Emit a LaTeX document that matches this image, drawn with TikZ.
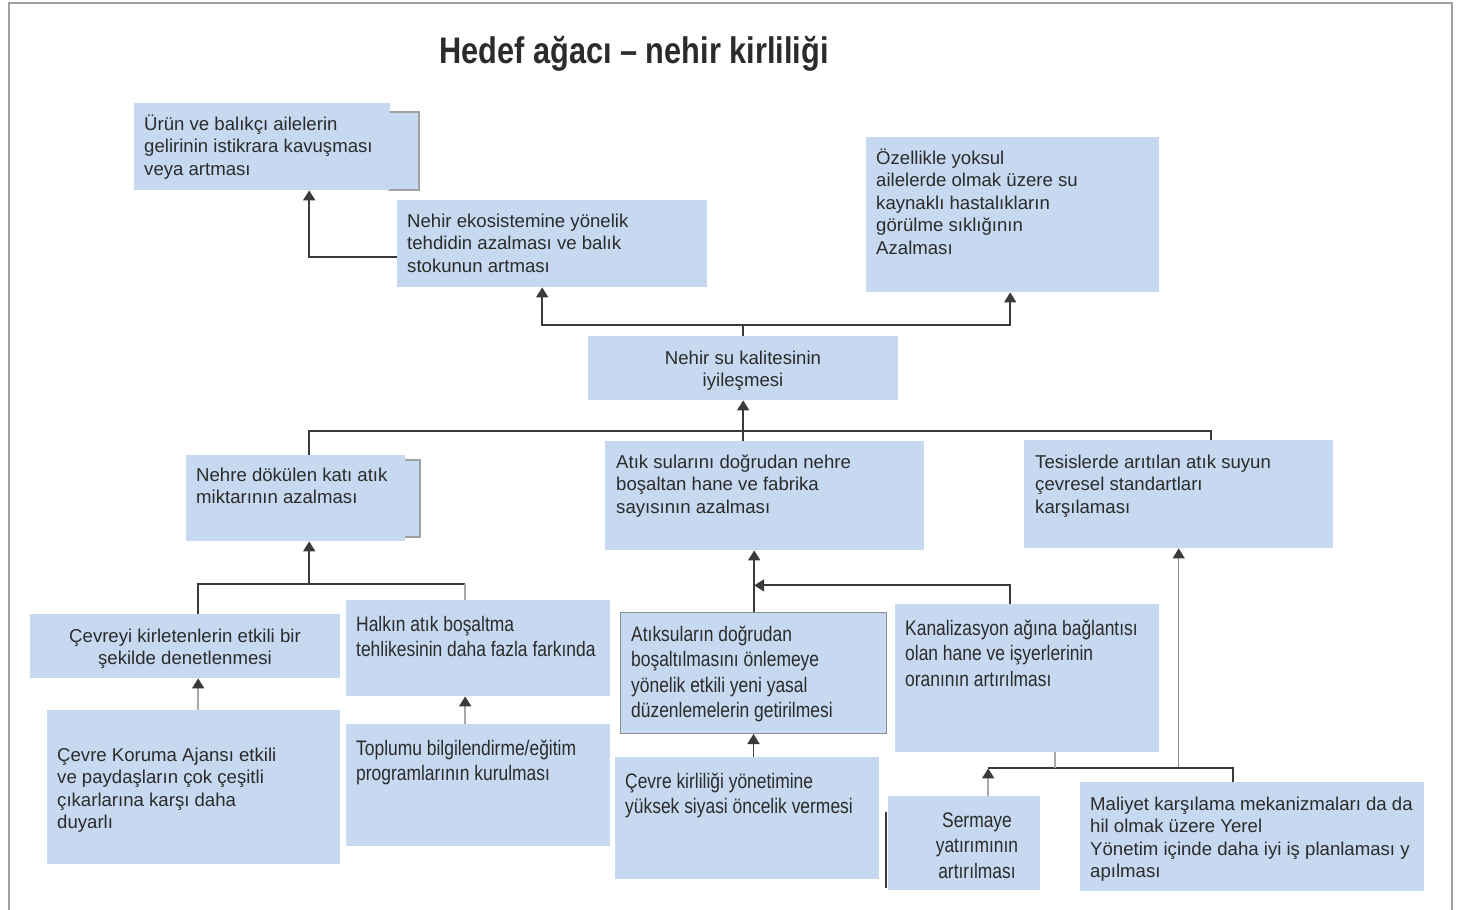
\documentclass[tikz,border=0pt]{standalone}
\usepackage{fontspec}
\setmainfont{Liberation Sans}
\newfontfamily\narrowfont[FakeStretch=0.83]{Liberation Sans}
\usetikzlibrary{arrows.meta}

\definecolor{boxblue}{HTML}{C6D9F0}
\definecolor{ink}{HTML}{2B2B2B}
\definecolor{wire}{HTML}{3A3A3A}
\definecolor{wirelight}{HTML}{A8A8A8}
\definecolor{wiremid}{HTML}{8C8C8C}
\definecolor{framegray}{HTML}{A0A0A0}

% stacked lines whose reference point is the first baseline
\newcommand{\txtlines}[2]{\begin{tabular}[t]{@{}#1@{}}#2\end{tabular}}

\tikzset{
  goal/.style={fill=boxblue, draw=none, anchor=north west, inner sep=0pt},
  framefill/.style={fill=boxblue},
  frameedge/.style={draw=framegray, line width=1.6pt},
  regtext/.style={anchor=base west, inner sep=0pt, text=ink,
    font=\fontsize{18.6}{22.5}\selectfont},
  regcenter/.style={regtext, anchor=base},
  nartext/.style={anchor=base west, inner sep=0pt, text=ink,
    font=\narrowfont\fontsize{21}{25.5}\selectfont},
  narcenter/.style={nartext, anchor=base},
  wireline/.style={draw=wire, line width=1.9pt},
  lightline/.style={draw=wirelight, line width=1.9pt},
  tip/.style={-{Triangle[width=12pt,length=10pt,color=wire]}},
  arr/.style={wireline, tip},
  larr/.style={lightline, tip},
  garr/.style={draw=wiremid, line width=1.3pt, tip},
}

\begin{document}
\begin{tikzpicture}[x=1pt,y=-1pt]
\fill[white] (0,0) rectangle (1457,910);
\useasboundingbox (0,0) rectangle (1457,910);

% outer frame
\draw[framegray, line width=2pt] (9,910) -- (9,3) -- (1452,3) -- (1452,910);

% title
\node[anchor=base, inner sep=0pt, text=ink,
  font=\narrowfont\bfseries\fontsize{37}{40}\selectfont] (title) at (634,63)
  {Hedef ağacı – nehir kirliliği};

% back frames behind two boxes
\fill[framefill] (150,112) rectangle (419,190);
\draw[frameedge] (388,112) -- (419,112) -- (419,190) -- (388,190);
\fill[framefill] (200,460) rectangle (420,537);
\draw[frameedge] (403,460) -- (420,460) -- (420,537) -- (403,537);

% goal boxes
\node[goal, minimum width=256pt, minimum height=87pt]  (urun)    at (134,103) {};
\node[goal, minimum width=310pt, minimum height=87pt]  (eko)     at (397,200) {};
\node[goal, minimum width=293pt, minimum height=155pt] (ozel)    at (866,137) {};
\node[goal, minimum width=310pt, minimum height=64pt]  (su)      at (588,336) {};
\node[goal, minimum width=219pt, minimum height=86pt]  (nehre)   at (186,455) {};
\node[goal, minimum width=319pt, minimum height=109pt] (atiksu)  at (605,441) {};
\node[goal, minimum width=309pt, minimum height=108pt] (tesis)   at (1024,440) {};
\node[goal, minimum width=310pt, minimum height=64pt]  (cevreyi) at (30,614) {};
\node[goal, minimum width=264pt, minimum height=96pt]  (halk)    at (346,600) {};
\node[goal, minimum width=266pt, minimum height=121pt, draw=wiremid, line width=1pt] (yasal) at (620,612) {};
\node[goal, minimum width=264pt, minimum height=148pt] (kanal)   at (895,604) {};
\node[goal, minimum width=293pt, minimum height=154pt] (ajans)   at (47,710) {};
\node[goal, minimum width=264pt, minimum height=122pt] (toplum)  at (346,724) {};
\node[goal, minimum width=264pt, minimum height=122pt] (siyasi)  at (615,757) {};
\node[goal, minimum width=152pt, minimum height=94pt]  (sermaye) at (888,796) {};
\node[goal, minimum width=344pt, minimum height=109pt] (maliyet) at (1080,782) {};

% edge mark on the left of the capital investment box
\draw[wireline, line width=1.5pt] ([xshift=-2pt,yshift=-16pt]sermaye.north west)
  -- ([xshift=-2pt,yshift=-92pt]sermaye.north west);

% box texts
\node[regtext] (t-urun) at (144,130)
  {\txtlines{l}{Ürün ve balıkçı ailelerin\\gelirinin istikrara kavuşması\\veya artması}};
\node[regtext] (t-eko) at (407,227)
  {\txtlines{l}{Nehir ekosistemine yönelik\\tehdidin azalması ve balık\\stokunun artması}};
\node[regtext] (t-ozel) at (876,164)
  {\txtlines{l}{Özellikle yoksul\\ailelerde olmak üzere su\\kaynaklı hastalıkların\\görülme sıklığının\\Azalması}};
\node[regcenter] (t-su) at (743,364)
  {\txtlines{c}{Nehir su kalitesinin\\iyileşmesi}};
\node[regtext] (t-nehre) at (196,481)
  {\txtlines{l}{Nehre dökülen katı atık\\miktarının azalması}};
\node[regtext] (t-atiksu) at (616,468)
  {\txtlines{l}{Atık sularını doğrudan nehre\\boşaltan hane ve fabrika\\sayısının azalması}};
\node[regtext] (t-tesis) at (1035,468)
  {\txtlines{l}{Tesislerde arıtılan atık suyun\\çevresel standartları\\karşılaması}};
\node[regcenter] (t-cevreyi) at (185,642)
  {\txtlines{c}{Çevreyi kirletenlerin etkili bir\\şekilde denetlenmesi}};
\node[nartext] (t-halk) at (356,631)
  {\txtlines{l}{Halkın atık boşaltma\\tehlikesinin daha fazla farkında}};
\node[nartext] (t-yasal) at (631,641)
  {\txtlines{l}{Atıksuların doğrudan\\boşaltılmasını önlemeye\\yönelik etkili yeni yasal\\düzenlemelerin getirilmesi}};
\node[nartext] (t-kanal) at (905,635)
  {\txtlines{l}{Kanalizasyon ağına bağlantısı\\olan hane ve işyerlerinin\\oranının artırılması}};
\node[regtext] (t-ajans) at (57,761)
  {\txtlines{l}{Çevre Koruma Ajansı etkili\\ve paydaşların çok çeşitli\\çıkarlarına karşı daha\\duyarlı}};
\node[nartext] (t-toplum) at (356,755)
  {\txtlines{l}{Toplumu bilgilendirme/eğitim\\programlarının kurulması}};
\node[nartext] (t-siyasi) at (625,788)
  {\txtlines{l}{Çevre kirliliği yönetimine\\yüksek siyasi öncelik vermesi}};
\node[narcenter] (t-sermaye) at (977,827)
  {\txtlines{c}{Sermaye\\yatırımının\\artırılması}};
\node[regtext] (t-maliyet) at (1090,810)
  {\txtlines{l}{Maliyet karşılama mekanizmaları da da\\hil olmak üzere Yerel\\Yönetim içinde daha iyi iş planlaması y\\apılması}};

% --- connectors ---
% top level
\draw[arr] ([yshift=-13.5pt]eko.west) -| ([xshift=47pt]urun.south);
\coordinate (jb) at ([yshift=11pt]su.north);
\draw[wireline] (su.north) -- (jb);
\draw[arr] (jb) -| ([xshift=-10pt]eko.south);
\draw[arr] (jb) -| ([xshift=-2.5pt]ozel.south);

% second level into river water quality
\coordinate (jc) at ([yshift=-31pt]su.south);
\draw[arr] (jc) -- (su.south);
\draw[wireline] ([xshift=13.5pt]nehre.north) |- (jc) -| ([xshift=32.5pt]tesis.north);
\draw[wireline] ([xshift=-21.5pt]atiksu.north) -- (jc);

% solid waste branch
\coordinate (nd) at ([xshift=13.5pt]nehre.south);
\coordinate (jd) at ([yshift=-43pt]nd);
\coordinate (hd) at ([xshift=-13pt]halk.north);
\draw[arr] (jd) -- (nd);
\draw[wireline] ([xshift=13pt]cevreyi.north) |- (jd);
\draw[wireline] (jd) -- (hd |- jd);
\draw[lightline] (hd |- jd) -- (hd);
\coordinate (e1) at ([xshift=13pt]cevreyi.south);
\draw[larr] (e1 |- ajans.north) -- (e1);
\coordinate (f1) at ([xshift=-13pt]halk.south);
\draw[larr] (f1 |- toplum.north) -- (f1);

% household and factory discharge branch
\coordinate (g1) at ([xshift=-10.5pt]atiksu.south);
\coordinate (g2) at ([yshift=-35pt]g1);
\draw[arr] (g1 |- yasal.north) -- (g1);
\draw[arr] ([xshift=-17pt]kanal.north) |- (g2);
\draw[arr] (yasal.south |- siyasi.north) -- (yasal.south);

% treated water branch
\coordinate (i1) at ([yshift=-220pt]tesis.south);
\coordinate (i2) at ([xshift=24pt]sermaye.north);
\coordinate (i3) at ([xshift=28pt]kanal.south);
\draw[garr] (i1) -- (tesis.south);
\draw[wireline] ([xshift=-19pt]maliyet.north) |- (i2 |- i1);
\draw[lightline] (i3) -- (i3 |- i1);
\draw[larr] (i2) -- (i2 |- i1);
\end{tikzpicture}
\end{document}
